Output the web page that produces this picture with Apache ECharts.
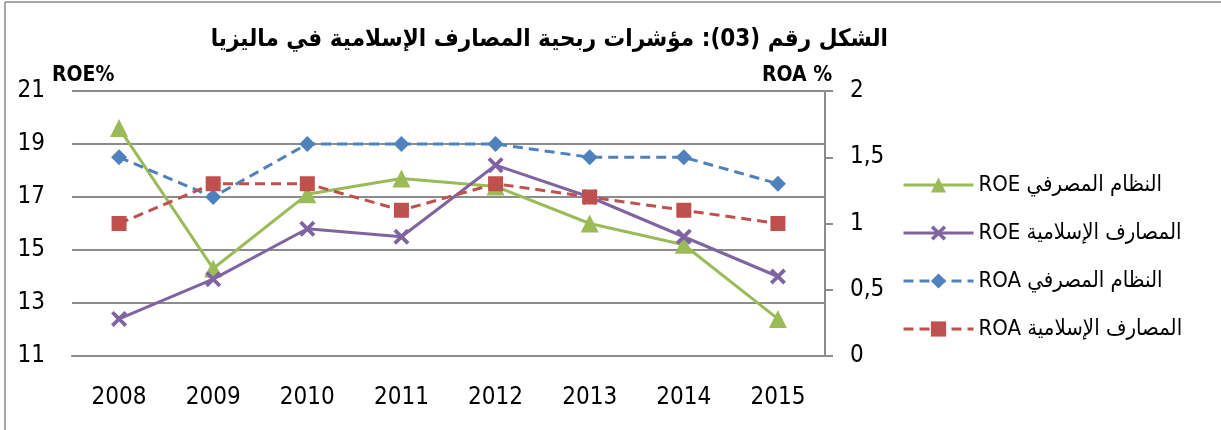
<!DOCTYPE html>
<html>
<head>
<meta charset="utf-8">
<script src="https://cdn.jsdelivr.net/npm/echarts@6/dist/echarts.min.js"></script>
<style>html,body{margin:0;padding:0;background:#fff}#c{width:1221px;height:430px}</style>
</head>
<body>
<div id="c"></div>
<script>
var years = ['2008','2009','2010','2011','2012','2013','2014','2015'];
var roeSystem = [19.6, 14.3, 17.1, 17.7, 17.4, 16.0, 15.2, 12.4];
var roeIslamic = [12.4, 13.9, 15.8, 15.5, 18.2, 17.0, 15.5, 14.0];
var roaSystem = [1.5, 1.2, 1.6, 1.6, 1.6, 1.5, 1.5, 1.3];
var roaIslamic = [1.0, 1.3, 1.3, 1.1, 1.3, 1.2, 1.1, 1.0];
var seriesNames = ['ROE النظام المصرفي', 'ROE المصارف الإسلامية', 'ROA النظام المصرفي', 'ROA المصارف الإسلامية'];
var titleText = 'الشكل رقم (03): مؤشرات ربحية المصارف الإسلامية في ماليزيا';

var FONT = "'DejaVu Sans Condensed', 'DejaVu Sans', sans-serif";
var xPath = 'path://M2,0 L6,4 L10,0 L12,2 L8,6 L12,10 L10,12 L6,8 L2,12 L0,10 L4,6 L0,2 Z';
var gridGray = '#8c8c8c';

var chart = echarts.init(document.getElementById('c'));
chart.setOption({
  backgroundColor: '#fff',
  animation: false,
  textStyle: { fontFamily: FONT },
  title: {
    text: titleText,
    right: 328, top: 23,
    textStyle: { fontFamily: FONT, fontWeight: 'bold', fontSize: 24, color: '#000' }
  },
  graphic: [
    { type: 'line', shape: { x1: 5, y1: 2, x2: 1221, y2: 2 }, style: { stroke: '#8a8a8a', lineWidth: 1.5 }, silent: true },
    { type: 'line', shape: { x1: 5, y1: 2, x2: 5, y2: 430 }, style: { stroke: '#8a8a8a', lineWidth: 1.5 }, silent: true },
    { type: 'text', left: 52, top: 65, style: { text: 'ROE%', font: "bold 21px " + FONT, fill: '#000' } },
    { type: 'text', left: 762, top: 65, style: { text: 'ROA %', font: "bold 21px " + FONT, fill: '#000' } }
  ],
  legend: {
    orient: 'vertical',
    left: 902, top: 174, padding: 0,
    itemWidth: 70, itemHeight: 19, itemGap: 26,
    lineStyle: { width: 3 },
    textStyle: { fontFamily: FONT, fontSize: 22, color: '#000' },
    data: seriesNames
  },
  grid: { left: 72, right: 396, top: 91, bottom: 74 },
  xAxis: {
    type: 'category', data: years, boundaryGap: true,
    axisLine: { lineStyle: { color: gridGray, width: 2 } },
    axisTick: { show: false },
    axisLabel: { color: '#000', fontSize: 24, margin: 30, fontFamily: FONT }
  },
  yAxis: [
    {
      type: 'value', min: 11, max: 21, interval: 2,
      axisLine: { show: false }, axisTick: { show: false },
      splitLine: { lineStyle: { color: gridGray, width: 2 } },
      axisLabel: { color: '#000', fontSize: 24, margin: 27, fontFamily: FONT }
    },
    {
      type: 'value', min: 0, max: 2, interval: 0.5, position: 'right',
      axisLine: { show: true, lineStyle: { color: gridGray, width: 2 } },
      axisTick: { show: true, length: 8, lineStyle: { color: gridGray, width: 2 } },
      splitLine: { show: false },
      axisLabel: { color: '#000', fontSize: 24, margin: 25, fontFamily: FONT,
        formatter: function (v) { return String(v).replace('.', ','); } }
    }
  ],
  series: [
    { name: seriesNames[0], type: 'line', yAxisIndex: 0, data: roeSystem,
      symbol: 'triangle', symbolSize: 18, color: '#9BBB59',
      lineStyle: { width: 3, color: '#9BBB59' }, itemStyle: { color: '#9BBB59' }, z: 3 },
    { name: seriesNames[1], type: 'line', yAxisIndex: 0, data: roeIslamic,
      symbol: xPath, symbolSize: 16, color: '#8064A2',
      lineStyle: { width: 3, color: '#8064A2' }, itemStyle: { color: '#8064A2' }, z: 4 },
    { name: seriesNames[2], type: 'line', yAxisIndex: 1, data: roaSystem,
      symbol: 'diamond', symbolSize: 16, color: '#4F81BD',
      lineStyle: { width: 3, color: '#4F81BD', type: [10, 6] }, itemStyle: { color: '#4F81BD' }, z: 5 },
    { name: seriesNames[3], type: 'line', yAxisIndex: 1, data: roaIslamic,
      symbol: 'rect', symbolSize: 15, color: '#C0504D',
      lineStyle: { width: 3, color: '#C0504D', type: [10, 6] }, itemStyle: { color: '#C0504D' }, z: 6 }
  ]
});
</script>
</body>
</html>
